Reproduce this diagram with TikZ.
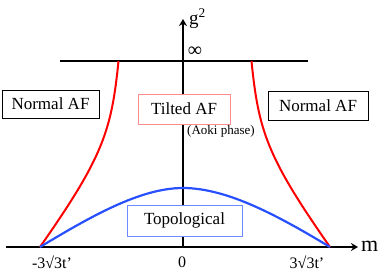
\documentclass[tikz,border=0pt]{standalone}
\usepackage{fontspec}
\setmainfont{Liberation Serif}
\usetikzlibrary{arrows.meta}
\definecolor{cblue}{RGB}{40,80,255}
\definecolor{bblue}{RGB}{110,140,255}
\definecolor{bpink}{RGB}{255,140,140}
\tikzset{
  axis/.style={line width=1.8pt, black},
  arr/.style={-{Stealth[length=7pt,width=8pt]}},
  redc/.style={line width=2pt, red},
  bluec/.style={line width=2.2pt, cblue},
  phasebox/.style={rectangle, fill=white, line width=1pt, inner sep=0pt},
  lbl/.style={inner sep=0pt, font=\fontsize{16}{18}\selectfont},
}
\begin{document}
\begin{tikzpicture}[x=1pt,y=-1pt]
\useasboundingbox (0,0) rectangle (381,273);
\coordinate (O) at (183,247);
\coordinate (xl) at (6,247);
\coordinate (xr) at (358,247);
\coordinate (yt) at (183,19);
\coordinate (tl) at (60,61);
\coordinate (tr) at (308,61);
\coordinate (L) at (40,247);
\coordinate (R) at (330,247);
\coordinate (Lt) at (118.5,61);
\coordinate (Rt) at (251.5,61);
\coordinate (P) at (183,188);
% axes
\draw[axis,arr] (xl) -- (xr);
\draw[axis,arr] (O) -- (yt);
\draw[axis] (tl) -- (tr);
% red curves
\draw[redc] (Lt) .. controls (111.5,131) and (103,157) .. (L);
\draw[redc] (Rt) .. controls (258.5,131) and (267,157) .. (R);
% blue curve
\draw[bluec] (L) .. controls (90,217) and (140,188) .. (P)
  .. controls (228,188) and (280,217) .. (R);
% boxes
\node[phasebox, draw=black, minimum width=97pt, minimum height=28pt,
  font=\fontsize{17}{20}\selectfont] (nl) at (50.5,104) {Normal AF};
\node[phasebox, draw=black, minimum width=100pt, minimum height=29pt,
  font=\fontsize{17}{20}\selectfont] (nr) at (318,105.5) {Normal AF};
\node[phasebox, draw=bpink, minimum width=92pt, minimum height=30pt,
  font=\fontsize{17}{20}\selectfont] (ta) at (184,109) {Tilted AF};
\node[phasebox, draw=bblue, minimum width=115pt, minimum height=31pt,
  font=\fontsize{17}{20}\selectfont] (tp) at (184.5,220.5) {Topological};
\node[inner sep=0pt, anchor=west, font=\fontsize{13}{15}\selectfont] (aoki) at (187,131) {(Aoki phase)};
% axis labels
\node[lbl] (lm) at (52,262) {-3√3t’};
\node[lbl] (l0) at (182,262) {0};
\node[lbl] (lp) at (307,262) {3√3t’};
\node[inner sep=0pt, anchor=west, font=\fontsize{22}{24}\selectfont] (m) at (361,246) {m};
\node[inner sep=0pt, anchor=base west, font=\fontsize{19}{21}\selectfont] (g) at (189,24) {g\textsuperscript{2}};
\node[inner sep=0pt, font=\fontsize{20}{22}\selectfont] (inf) at (195,52) {∞};
\end{tikzpicture}
\end{document}
